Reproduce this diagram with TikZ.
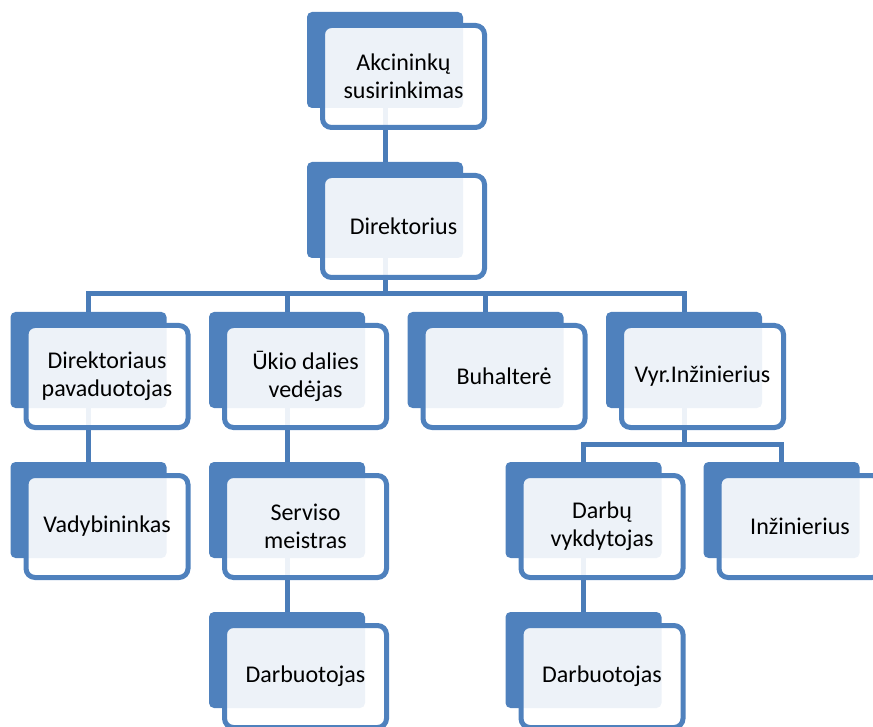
\documentclass[tikz,border=0pt]{standalone}
\usepackage{fontspec}
\setmainfont{Carlito}
\usetikzlibrary{backgrounds}
\definecolor{boxblue}{RGB}{79,129,189}
\definecolor{lineblue}{RGB}{74,124,184}
\tikzset{
  back/.style={rectangle,rounded corners=5pt,fill=boxblue,
    minimum width=156pt,minimum height=96pt,inner sep=0pt},
  front/.style={rectangle,rounded corners=9pt,draw=boxblue,line width=5pt,
    fill=white,fill opacity=0.9,text opacity=1,
    minimum width=162pt,minimum height=102pt,inner sep=0pt,
    xshift=18.5pt,yshift=-16.5pt,align=center,
    font=\fontsize{24}{28}\selectfont},
  link/.style={draw=lineblue,line width=5pt}
}
\begin{document}
\begin{tikzpicture}[x=1pt,y=-1pt]
        \useasboundingbox (0,0) rectangle (873,727);

        \begin{scope}[every node/.style={back}]
          \node (akcB)  at (385,60)    {};
          \node (dirB)  at (385,210)   {};
          \node (pavB)  at (88.5,360)  {};
          \node (ukB)   at (287,360)   {};
          \node (buhB)  at (485.5,360) {};
          \node (vyrB)  at (684,360)   {};
          \node (vadB)  at (88.5,510)  {};
          \node (serB)  at (287,510)   {};
          \node (vykB)  at (583.5,510) {};
          \node (inzB)  at (781.5,510) {};
          \node (darb1B) at (287,660)  {};
          \node (darb2B) at (583.5,660) {};
        \end{scope}

        \begin{scope}[every node/.style={front}]
          \node (akc)  at (akcB)  {Akcininkų\\susirinkimas};
          \node (dir)  at (dirB)  {Direktorius};
          \node (pav)  at (pavB)  {Direktoriaus\\pavaduotojas};
          \node (uk)   at (ukB)   {Ūkio dalies\\vedėjas};
          \node (buh)  at (buhB)  {Buhalterė};
          \node (vyr)  at (vyrB)  {Vyr.Inžinierius};
          \node (vad)  at (vadB)  {Vadybininkas};
          \node (ser)  at (serB)  {Serviso\\meistras};
          \node (vyk)  at (vykB)  {Darbų\\vykdytojas};
          \node (inz)  at (inzB)  {Inžinierius};
          \node (darb1) at (darb1B) {Darbuotojas};
          \node (darb2) at (darb2B) {Darbuotojas};
        \end{scope}

        \coordinate (bus1) at (385,293.5);
        \coordinate (bus2) at (684,444);

        \begin{pgfonlayer}{background}
          \begin{scope}[every path/.style={link}]
            \path (akcB.south) -- (dirB.north);
            \path (dirB.south) -- (bus1);
            \path (bus1) -| (pavB.north);
            \path (bus1) -| (ukB.north);
            \path (bus1) -| (buhB.north);
            \path (bus1) -| (vyrB.north);
            \path (pavB.south) -- (vadB.north);
            \path (ukB.south)  -- (serB.north);
            \path (serB.south) -- (darb1B.north);
            \path (vyrB.south) -- (bus2);
            \path (bus2) -| (vykB.north);
            \path (bus2) -| (inzB.north);
            \path (vykB.south) -- (darb2B.north);
          \end{scope}
        \end{pgfonlayer}

      \end{tikzpicture}
\end{document}
